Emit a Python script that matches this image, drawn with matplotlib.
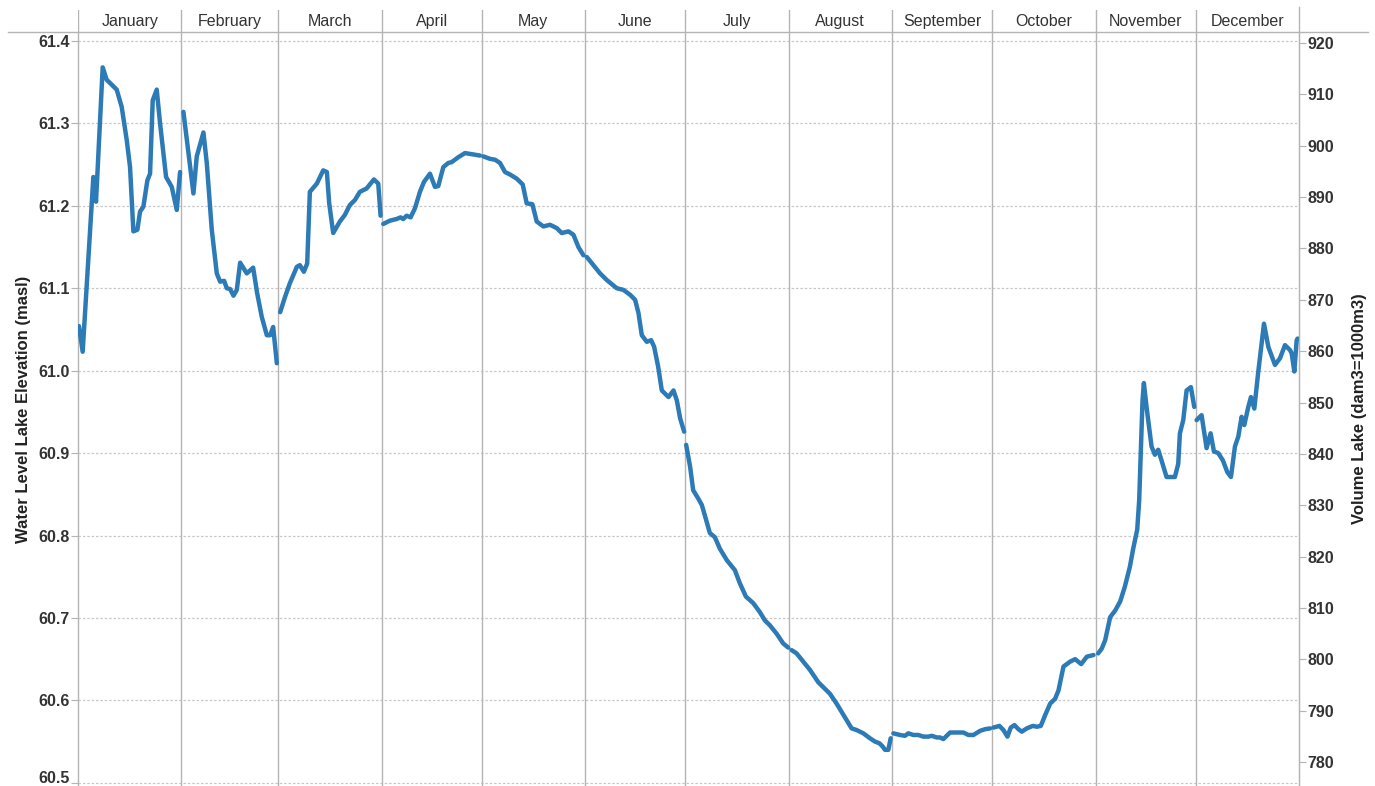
import numpy as np
import matplotlib.pyplot as plt
from matplotlib.lines import Line2D

# ----------------------------------------------------------------------
# data
months = ["January", "February", "March", "April", "May", "June", "July",
          "August", "September", "October", "November", "December"]
month_start = [0, 31, 60, 91, 121, 152, 182, 213, 244, 274, 305, 335, 366]

# day of year (0 = 1 Jan) and lake water level [masl]
day = [
    # Jan
    0.3, 1.4, 4.6, 5.4, 7.4, 8.6, 10.1, 11.6, 13.1, 14.6, 15.6, 16.6, 17.8,
    18.6, 19.6, 20.8, 21.6, 22.4, 23.6, 24.6, 26.4, 28.1, 29.6, 30.6,
    # Feb
    31.6, 34.6, 35.6, 37.6, 38.6, 40.1, 41.6, 42.6, 43.8, 44.6, 45.6, 46.6,
    47.6, 48.6, 50.6, 52.5, 53.7, 55.1, 56.6, 57.6, 58.5, 59.6,
    # Mar
    60.6, 62.1, 63.5, 65.6, 66.5, 67.7, 68.7, 69.5, 71.6, 73.5, 74.6, 75.3,
    76.5, 78.5, 80.0, 81.5, 83.0, 84.5, 86.5, 88.7, 90.0, 90.7,
    # Apr
    91.5, 93.5, 95.5, 96.7, 97.5, 98.5, 99.7, 101.0, 102.5, 103.7, 105.5,
    107.0, 108.0, 109.5, 111.0, 112.0, 114.0, 116.0, 117.5, 120.5,
    # May
    121.5, 123.5, 125.0, 126.5, 128.0, 129.5, 131.5, 133.3, 134.5, 136.2,
    137.5, 139.5, 141.5, 143.5, 145.0, 147.0, 148.5, 150.0, 151.5,
    # Jun
    152.5, 154.5, 156.5, 158.5, 161.5, 163.5, 165.5, 167.0, 168.0, 169.0,
    170.5, 171.8, 172.7, 173.9, 175.0, 177.0, 178.5, 179.5, 180.5, 181.7,
    # Jul
    182.3, 183.5, 184.4, 185.9, 187.0, 188.0, 189.4, 190.9, 192.4, 194.5,
    196.9, 198.4, 200.2, 202.4, 204.4, 205.9, 207.4, 209.4, 211.4, 212.9,
    # Aug
    213.9, 215.4, 217.4, 219.4, 221.9, 223.4, 225.4, 227.4, 228.9, 230.4,
    231.9, 233.4, 235.4, 237.4, 238.9, 240.2, 241.2, 241.9, 242.9, 243.6,
    # Sep
    244.4, 246.4, 247.9, 248.9, 250.4, 251.9, 253.4, 254.9, 255.9, 257.4,
    258.4, 259.4, 261.4, 263.4, 265.4, 266.9, 268.4, 270.4, 271.9, 273.4,
    # Oct
    274.4, 276.2, 277.4, 278.6, 279.6, 280.7, 281.9, 282.9, 284.4, 286.2,
    287.4, 288.6, 289.9, 291.4, 292.9, 293.9, 295.4, 297.4, 298.9, 300.7,
    302.4, 304.4,
    # Nov
    305.8, 306.9, 307.9, 309.4, 310.9, 312.4, 313.8, 315.3, 316.3, 317.5,
    318.1, 318.6, 319.1, 319.5, 320.3, 321.8, 322.8, 323.8, 324.8, 326.3,
    327.8, 328.8, 329.8, 330.3, 331.3, 332.3, 333.6, 334.6,
    # Dec
    335.3, 336.8, 338.3, 339.5, 340.5, 341.8, 343.2, 344.5, 345.6, 346.8,
    347.8, 348.8, 349.6, 350.8, 351.6, 352.6, 353.8, 355.5, 356.8, 358.8,
    360.3, 361.8, 363.3, 363.8, 364.6, 365.3, 365.6,
]
level = [
    # Jan
    61.054, 61.023, 61.235, 61.205, 61.368, 61.353, 61.347, 61.341, 61.320,
    61.280, 61.247, 61.169, 61.171, 61.193, 61.199, 61.231, 61.239, 61.328,
    61.341, 61.300, 61.235, 61.223, 61.195, 61.241,
    # Feb
    61.314, 61.215, 61.260, 61.289, 61.252, 61.171, 61.118, 61.108, 61.109,
    61.100, 61.099, 61.091, 61.098, 61.131, 61.118, 61.125, 61.094, 61.065,
    61.043, 61.043, 61.053, 61.009,
    # Mar
    61.071, 61.090, 61.106, 61.126, 61.128, 61.120, 61.130, 61.217, 61.227,
    61.243, 61.241, 61.203, 61.167, 61.181, 61.189, 61.201, 61.207, 61.217,
    61.221, 61.232, 61.227, 61.188,
    # Apr
    61.178, 61.182, 61.184, 61.186, 61.184, 61.188, 61.186, 61.197, 61.217,
    61.229, 61.239, 61.223, 61.224, 61.247, 61.252, 61.253, 61.259, 61.264,
    61.263, 61.261,
    # May
    61.260, 61.257, 61.256, 61.252, 61.241, 61.238, 61.233, 61.226, 61.203,
    61.202, 61.181, 61.175, 61.177, 61.173, 61.167, 61.169, 61.165, 61.150,
    61.140,
    # Jun
    61.138, 61.128, 61.118, 61.110, 61.100, 61.098, 61.092, 61.086, 61.070,
    61.043, 61.035, 61.037, 61.029, 61.005, 60.976, 60.968, 60.976, 60.964,
    60.942, 60.926,
    # Jul
    60.910, 60.883, 60.855, 60.845, 60.837, 60.823, 60.803, 60.798, 60.784,
    60.770, 60.758, 60.742, 60.726, 60.718, 60.707, 60.697, 60.691, 60.681,
    60.669, 60.664,
    # Aug
    60.661, 60.657, 60.647, 60.637, 60.622, 60.616, 60.608, 60.596, 60.586,
    60.576, 60.566, 60.564, 60.560, 60.554, 60.550, 60.548, 60.544, 60.540,
    60.540, 60.554,
    # Sep
    60.560, 60.558, 60.557, 60.560, 60.558, 60.558, 60.556, 60.556, 60.557,
    60.555, 60.555, 60.553, 60.561, 60.561, 60.561, 60.558, 60.558, 60.563,
    60.565, 60.566,
    # Oct
    60.567, 60.569, 60.564, 60.556, 60.567, 60.570, 60.565, 60.562, 60.566,
    60.569, 60.568, 60.569, 60.582, 60.596, 60.602, 60.612, 60.641, 60.647,
    60.650, 60.644, 60.653, 60.655,
    # Nov
    60.657, 60.663, 60.673, 60.701, 60.709, 60.720, 60.738, 60.762, 60.784,
    60.807, 60.843, 60.904, 60.964, 60.985, 60.956, 60.908, 60.898, 60.904,
    60.891, 60.871, 60.871, 60.871, 60.887, 60.924, 60.940, 60.976, 60.980,
    60.956,
    # Dec
    60.940, 60.946, 60.906, 60.924, 60.902, 60.900, 60.891, 60.877, 60.871,
    60.908, 60.920, 60.944, 60.934, 60.956, 60.968, 60.954, 60.999, 61.057,
    61.029, 61.007, 61.015, 61.031, 61.025, 61.021, 60.999, 61.037, 61.039,
]

level_ticks = [60.5, 60.6, 60.7, 60.8, 60.9, 61.0, 61.1, 61.2, 61.3, 61.4]
volume_ticks = list(range(780, 921, 10))

#======================================================================
plt.rcParams['font.family'] = ['Liberation Sans', 'DejaVu Sans']

LINE_C = "#2c7bb6"
GRID_C = "#c8c8c8"
SEP_C = "#b4b4b4"
TXT_C = "#333333"

W, H = 1375, 786
fig = plt.figure(figsize=(W / 100, H / 100), dpi=100)

# pixel layout
x0, x1 = 78, 1299
y_top, y_bot = 32, 786
ax = fig.add_axes([x0 / W, 1 - y_bot / H, (x1 - x0) / W, (y_bot - y_top) / H])

day = np.array(day)
level = np.array(level)
seg = np.digitize(day, month_start) - 1
for m in range(12):
    sel = seg == m
    ax.plot(day[sel], level[sel], color=LINE_C, lw=3.2,
            solid_capstyle="round", solid_joinstyle="round", zorder=3)

ax.set_xlim(month_start[0], month_start[-1])
ax.set_ylim(60.4961, 61.4109)
ax.set_xticks([])
ax.set_yticks(level_ticks)
ax.set_yticklabels(["%.1f" % v for v in level_ticks])
for v in level_ticks:
    ax.axhline(v, color=GRID_C, lw=0.9, ls=(0, (2, 1.5)), zorder=1)
for s in month_start[1:-1]:
    ax.axvline(s, color=SEP_C, lw=1.0, zorder=1)

ax.tick_params(axis="y", length=5, width=0.8, color=SEP_C, pad=1,
               labelsize=11.5, labelcolor=TXT_C)
for lab in ax.get_yticklabels():
    lab.set_fontweight("bold")
# bottom label sits on its tick line so it is not clipped
ax.get_yticklabels()[0].set_verticalalignment("baseline")
for side in ["top", "bottom"]:
    ax.spines[side].set_visible(False)
for side in ["left", "right"]:
    ax.spines[side].set_color(SEP_C)
    ax.spines[side].set_linewidth(1.0)
ax.set_ylabel("Water Level Lake Elevation (masl)", fontsize=12,
              fontweight="bold", color="#222222", labelpad=5)

# right axis: lake volume
ax2 = ax.twinx()
ax2.set_ylim(775.33, 922.14)
ax2.set_yticks(volume_ticks)
ax2.set_yticklabels([str(v) for v in volume_ticks])
ax2.tick_params(axis="y", length=5, width=0.8, color=SEP_C, pad=1,
                labelsize=11.5, labelcolor=TXT_C)
for lab in ax2.get_yticklabels():
    lab.set_fontweight("bold")
for side in ["top", "bottom", "left"]:
    ax2.spines[side].set_visible(False)
ax2.spines["right"].set_color(SEP_C)
ax2.set_ylabel("Volume Lake (dam3=1000m3)", fontsize=12, fontweight="bold",
               color="#222222", labelpad=13)

# month header
hd = fig.add_axes([x0 / W, 1 - y_top / H, (x1 - x0) / W, 22 / H])
hd.set_xlim(month_start[0], month_start[-1])
hd.set_ylim(0, 1)
hd.axis("off")
for m, name in enumerate(months):
    hd.text((month_start[m] + month_start[m + 1]) / 2, 0.27, name,
            ha="center", va="baseline", fontsize=11.5, color=TXT_C)
for s in month_start[:-1]:
    hd.axvline(s, color=SEP_C, lw=1.0)
fig.add_artist(Line2D([x1 / W, x1 / W], [1 - 7 / H, 1 - y_top / H],
                      color=SEP_C, lw=1.0))
fig.add_artist(Line2D([8 / W, 1368 / W], [1 - y_top / H, 1 - y_top / H],
                      color=SEP_C, lw=1.0))

fig.savefig("out.png", dpi=100)
